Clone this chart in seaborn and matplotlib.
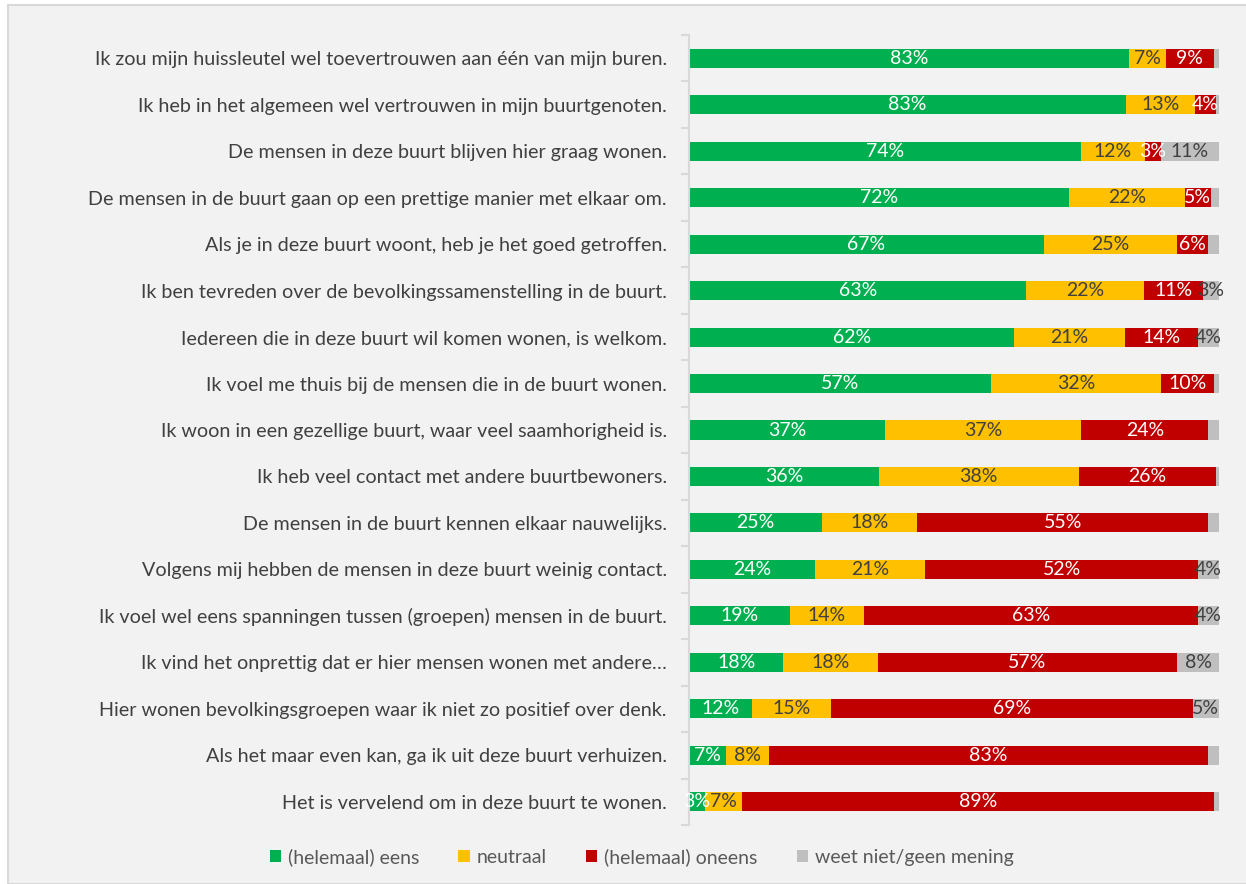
import numpy as np
import pandas as pd
import matplotlib.pyplot as plt
import seaborn as sns
from matplotlib.patches import Rectangle, Patch

statements = [
    "Ik zou mijn huissleutel wel toevertrouwen aan één van mijn buren.",
    "Ik heb in het algemeen wel vertrouwen in mijn buurtgenoten.",
    "De mensen in deze buurt blijven hier graag wonen.",
    "De mensen in de buurt gaan op een prettige manier met elkaar om.",
    "Als je in deze buurt woont, heb je het goed getroffen.",
    "Ik ben tevreden over de bevolkingssamenstelling in de buurt.",
    "Iedereen die in deze buurt wil komen wonen, is welkom.",
    "Ik voel me thuis bij de mensen die in de buurt wonen.",
    "Ik woon in een gezellige buurt, waar veel saamhorigheid is.",
    "Ik heb veel contact met andere buurtbewoners.",
    "De mensen in de buurt kennen elkaar nauwelijks.",
    "Volgens mij hebben de mensen in deze buurt weinig contact.",
    "Ik voel wel eens spanningen tussen (groepen) mensen in de buurt.",
    "Ik vind het onprettig dat er hier mensen wonen met andere…",
    "Hier wonen bevolkingsgroepen waar ik niet zo positief over denk.",
    "Als het maar even kan, ga ik uit deze buurt verhuizen.",
    "Het is vervelend om in deze buurt te wonen.",
]

eens      = [83, 83, 74, 72, 67, 63, 62, 57, 37, 36, 25, 24, 19, 18, 12, 7, 3]
neutraal  = [7, 13, 12, 22, 25, 22, 21, 32, 37, 38, 18, 21, 14, 18, 15, 8, 7]
oneens    = [9, 4, 3, 5, 6, 11, 14, 10, 24, 26, 55, 52, 63, 57, 69, 83, 89]
weet_niet = [1, 0.6, 11, 1.5, 2, 3, 4, 1, 2, 0.6, 2, 4, 4, 8, 5, 2, 1]

series_names = ["(helemaal) eens", "neutraal", "(helemaal) oneens", "weet niet/geen mening"]
colors       = ["#00B050", "#FFC000", "#C00000", "#BFBFBF"]
label_colors = ["white", "#404040", "white", "#404040"]

plt.rcParams["font.family"] = ["Lato", "DejaVu Sans"]

df = pd.DataFrame({
    "statement": statements,
    series_names[0]: eens,
    series_names[1]: neutraal,
    series_names[2]: oneens,
    series_names[3]: weet_niet,
})
raw = df[series_names]
share = raw.div(raw.sum(axis=1), axis=0) * 100   # 100% stacked, like Excel
cum = share.cumsum(axis=1)

fig = plt.figure(figsize=(12.46, 8.84), dpi=100, facecolor="white")
fig.patches.append(Rectangle((8 / 1246, 0), 1, 1 - 5 / 884, transform=fig.transFigure,
                             facecolor="#F2F2F2", edgecolor="#D9D9D9", lw=1.5, zorder=-10))
ax = fig.add_axes([689 / 1246, 1 - 825 / 884, (1219 - 689) / 1246, (825 - 35) / 884])
ax.patch.set_alpha(0)

# stacked bars: draw cumulative totals from the right-most series back to the left
for i in reversed(range(len(series_names))):
    sns.barplot(x=cum.iloc[:, i].values, y=df["statement"], color=colors[i],
                orient="h", width=0.41, saturation=1, ax=ax)

for i, name in enumerate(series_names):
    for row in range(len(df)):
        val = raw[name].iloc[row]
        if val < 3:
            continue
        xc = cum.iloc[row, i] - share.iloc[row, i] / 2
        ax.text(xc, row, f"{val:.0f}%", ha="center", va="center",
                color=label_colors[i], fontsize=14)

ax.set_xlim(0, 100)
ax.set_ylim(len(df) - 0.5, -0.5)
ax.set_xticks([])
ax.set_xlabel("")
ax.set_ylabel("")
for s in ["top", "right", "bottom"]:
    ax.spines[s].set_visible(False)
ax.spines["left"].set_color("#D9D9D9")
ax.spines["left"].set_linewidth(1.5)
ax.set_yticks(np.arange(-0.5, len(df)), minor=True)
ax.tick_params(axis="y", which="major", length=0, pad=16, labelsize=14.2, labelcolor="#404040")
ax.tick_params(axis="y", which="minor", length=6, width=1.5, color="#D9D9D9")

handles = [Patch(facecolor=c, edgecolor="none") for c in colors]
fig.legend(handles, series_names, loc="center", bbox_to_anchor=(0.515, 1 - 857 / 884),
           ncol=4, frameon=False, fontsize=14, labelcolor="#595959",
           handlelength=0.6, handleheight=0.6, handletextpad=0.35, columnspacing=2.0)

fig.savefig("out.png", dpi=100, facecolor=fig.get_facecolor())
